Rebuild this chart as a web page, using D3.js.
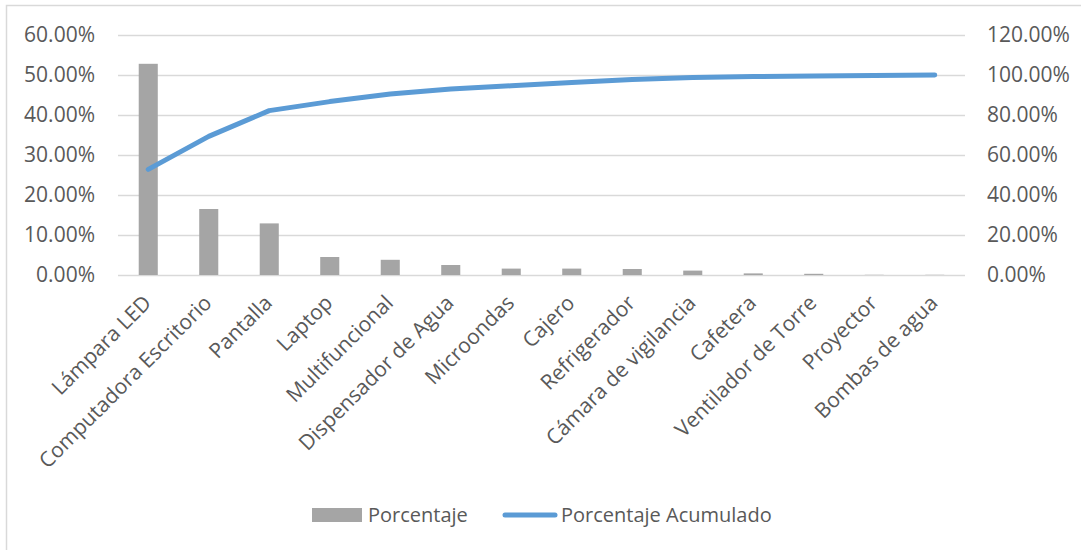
<!DOCTYPE html>
<html>
<head>
<meta charset="utf-8">
<script src="https://cdn.jsdelivr.net/npm/d3@7"></script>
<style>
  body { margin: 0; background: #fff; }
  text { font-family: "Open Sans", sans-serif; fill: #595959; }
</style>
</head>
<body>
<div id="chart-area"></div>
<script>

// Data
var categories = ["Lámpara LED", "Computadora Escritorio", "Pantalla", "Laptop", "Multifuncional",
    "Dispensador de Agua", "Microondas", "Cajero", "Refrigerador", "Cámara de vigilancia",
    "Cafetera", "Ventilador de Torre", "Proyector", "Bombas de agua"];
var porcentaje = [52.8, 16.5, 12.9, 4.5, 3.8, 2.5, 1.6, 1.6, 1.5, 1.1, 0.4, 0.3, 0.05, 0.05];
var acumulado = [52.8, 69.3, 82.2, 86.7, 90.5, 93.0, 94.6, 96.2, 97.7, 98.8, 99.2, 99.5, 99.8, 100];
var leftTicks = [0, 10, 20, 30, 40, 50, 60];
var rightTicks = [0, 20, 40, 60, 80, 100, 120];

var W = 1081, H = 550;
var margin = {top: 35, right: 116, bottom: 275, left: 118};
var width = W - margin.left - margin.right,
    height = H - margin.top - margin.bottom;

var svg = d3.select("#chart-area").append("svg")
    .attr("width", W)
    .attr("height", H);

// chart area border (only top/left visible in the picture)
svg.append("rect")
    .attr("x", 6.5).attr("y", 5.5)
    .attr("width", 1200).attr("height", 800)
    .attr("fill", "none")
    .attr("stroke", "#d9d9d9")
    .attr("stroke-width", 1.5);

var g = svg.append("g")
    .attr("transform", "translate(" + margin.left + "," + margin.top + ")");

var x = d3.scaleBand()
    .domain(categories)
    .range([0, width])
    .paddingInner(0.685)
    .paddingOuter(0.3425);

var yLeft = d3.scaleLinear().domain([0, 60]).range([height, 0]);
var yRight = d3.scaleLinear().domain([0, 120]).range([height, 0]);

// gridlines
g.selectAll(".grid")
    .data(leftTicks)
    .enter()
    .append("line")
    .attr("class", "grid")
    .attr("x1", 0)
    .attr("x2", width)
    .attr("y1", function(d) { return yLeft(d) + 0.5; })
    .attr("y2", function(d) { return yLeft(d) + 0.5; })
    .attr("stroke", "#d9d9d9")
    .attr("stroke-width", 1.5);

// left axis
var leftAxis = d3.axisLeft(yLeft)
    .tickValues(leftTicks)
    .tickSize(0)
    .tickPadding(23)
    .tickFormat(function(d) { return d3.format(".2f")(d) + "%"; });

g.append("g")
    .call(leftAxis)
    .call(function(s) { s.select(".domain").remove(); })
    .selectAll("text")
    .style("font-size", "21px")
    .attr("fill", "#595959");

// right axis
var rightAxis = d3.axisRight(yRight)
    .tickValues(rightTicks)
    .tickSize(0)
    .tickPadding(22)
    .tickFormat(function(d) { return d3.format(".2f")(d) + "%"; });

g.append("g")
    .attr("transform", "translate(" + width + ",0)")
    .call(rightAxis)
    .call(function(s) { s.select(".domain").remove(); })
    .selectAll("text")
    .style("font-size", "21px")
    .attr("fill", "#595959");

// bars
g.selectAll(".bar")
    .data(porcentaje)
    .enter()
    .append("rect")
    .attr("class", "bar")
    .attr("x", function(d, i) { return x(categories[i]); })
    .attr("width", x.bandwidth())
    .attr("y", function(d) { return yLeft(d); })
    .attr("height", function(d) { return height - yLeft(d); })
    .attr("fill", "#a5a5a5");

// cumulative line
var line = d3.line()
    .x(function(d, i) { return x(categories[i]) + x.bandwidth() / 2; })
    .y(function(d) { return yRight(d); });

g.append("path")
    .datum(acumulado)
    .attr("d", line)
    .attr("fill", "none")
    .attr("stroke", "#5b9bd5")
    .attr("stroke-width", 5)
    .attr("stroke-linecap", "round")
    .attr("stroke-linejoin", "round");

// category labels
g.selectAll(".cat")
    .data(categories)
    .enter()
    .append("text")
    .attr("class", "cat")
    .attr("text-anchor", "end")
    .attr("transform", function(d) {
        return "translate(" + (x(d) + x.bandwidth() / 2 - 1) + "," + (height + 24) + ") rotate(-45)";
    })
    .attr("dy", "0.35em")
    .style("font-size", "21px")
    .text(function(d) { return d; });

// legend
var legend = svg.append("g").attr("transform", "translate(0,515)");

legend.append("rect")
    .attr("x", 312).attr("y", -7)
    .attr("width", 50).attr("height", 14)
    .attr("fill", "#a5a5a5");

legend.append("text")
    .attr("x", 368).attr("y", 0)
    .attr("dy", "0.35em")
    .style("font-size", "20px")
    .text("Porcentaje");

legend.append("line")
    .attr("x1", 505).attr("x2", 555)
    .attr("y1", 0).attr("y2", 0)
    .attr("stroke", "#5b9bd5")
    .attr("stroke-width", 5)
    .attr("stroke-linecap", "round");

legend.append("text")
    .attr("x", 561).attr("y", 0)
    .attr("dy", "0.35em")
    .style("font-size", "20px")
    .text("Porcentaje Acumulado");

</script>
</body>
</html>
